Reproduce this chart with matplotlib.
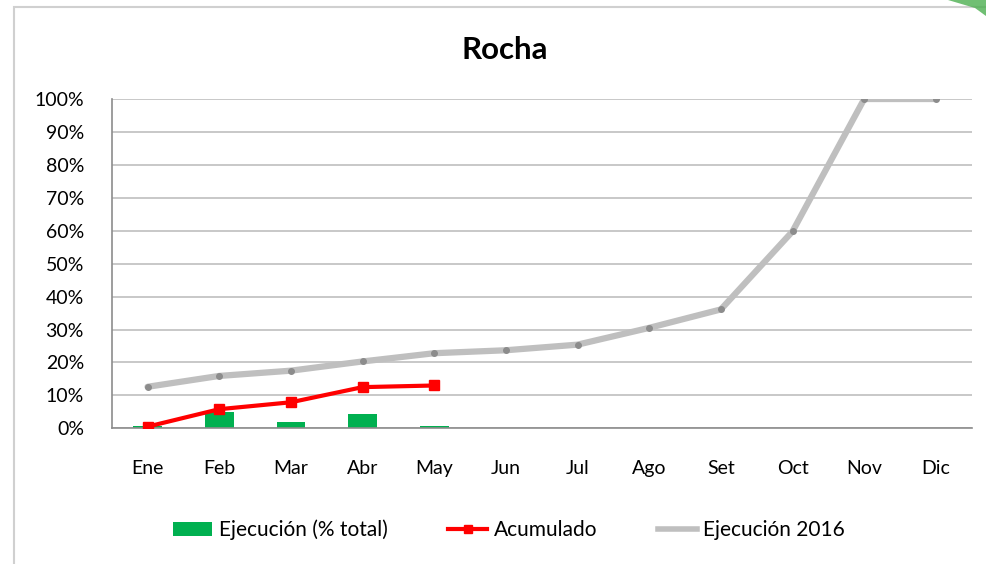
import matplotlib
matplotlib.use("Agg")
import matplotlib.pyplot as plt
from matplotlib.patches import Rectangle, Patch, Polygon
from matplotlib.lines import Line2D
from matplotlib.ticker import FuncFormatter, MultipleLocator

months = ["Ene", "Feb", "Mar", "Abr", "May", "Jun", "Jul", "Ago", "Set", "Oct", "Nov", "Dic"]
ejecucion = [0.6, 4.8, 2.0, 4.2, 0.6]          # % total (bars)
acumulado = [0.5, 5.8, 7.9, 12.5, 13.0]        # cumulative %
ejec_2016 = [12.6, 15.9, 17.5, 20.3, 22.8, 23.7, 25.4, 30.5, 36.1, 59.8, 100, 100]

FONT = "Lato"
plt.rcParams["font.family"] = [FONT, "DejaVu Sans"]

fig = plt.figure(figsize=(9.86, 5.64), dpi=100)
ax = fig.add_axes([111.7 / 986, 1 - 428.3 / 564, (971.7 - 111.7) / 986, (428.3 - 99) / 564])

x = list(range(len(months)))
xa = x[:len(ejecucion)]

ax.bar(xa, ejecucion, width=0.4, color="#00B050", zorder=2)
ax.plot(x, ejec_2016, color="#BFBFBF", lw=4.5, solid_capstyle="round", zorder=3,
        marker="o", ms=4, mfc="#8C8C8C", mec="#8C8C8C")
ax.plot(xa, acumulado, color="#FF0000", lw=3, marker="s", ms=7, zorder=4)

ax.set_xlim(-0.5, 11.5)
ax.set_ylim(0, 100)
ax.yaxis.set_major_locator(MultipleLocator(10))
ax.yaxis.set_major_formatter(FuncFormatter(lambda v, p: f"{int(round(v))}%"))
ax.set_xticks(x)
ax.set_xticklabels(months)
ax.grid(axis="y", color="#BFBFBF", lw=1.2, zorder=0)
ax.set_axisbelow(True)
for s in ["top", "right"]:
    ax.spines[s].set_visible(False)
for s in ["left", "bottom"]:
    ax.spines[s].set_color("#8C8C8C")
    ax.spines[s].set_linewidth(1.2)
ax.tick_params(axis="both", length=0, labelsize=14, colors="black")
ax.tick_params(axis="y", pad=20)
ax.tick_params(axis="x", pad=22.5)

fig.text(505 / 986, 1 - 50 / 564, "Rocha", ha="center", va="center",
         fontsize=22.5, fontweight="bold")

# chart border
fig.patches.append(Rectangle((14 / 986, -0.05), 1.1, 1 - 7 / 564 + 0.05,
                             transform=fig.transFigure, fill=False,
                             edgecolor="#D0D0D0", lw=1.5))
# decorative green corner
fig.patches.append(Polygon([(948 / 986, 1.0), (1.0, 1.0), (1.0, 1 - 16 / 564),
                            (975 / 986, 1 - 8 / 564)],
                           closed=True, transform=fig.transFigure,
                           facecolor="#4CAF50", edgecolor="none", alpha=0.8))

handles = [
    Patch(facecolor="#00B050", edgecolor="none"),
    Line2D([], [], color="#FF0000", lw=3, marker="s", ms=6),
    Line2D([], [], color="#BFBFBF", lw=4),
]
labels = ["Ejecución (% total)", "Acumulado", "Ejecución 2016"]
fig.legend(handles, labels, loc="center", bbox_to_anchor=(509 / 986, 1 - 530 / 564),
           ncol=3, frameon=False, fontsize=15, handlelength=1.9,
           handletextpad=0.3, columnspacing=2.9)

fig.savefig("out.png", dpi=100)
